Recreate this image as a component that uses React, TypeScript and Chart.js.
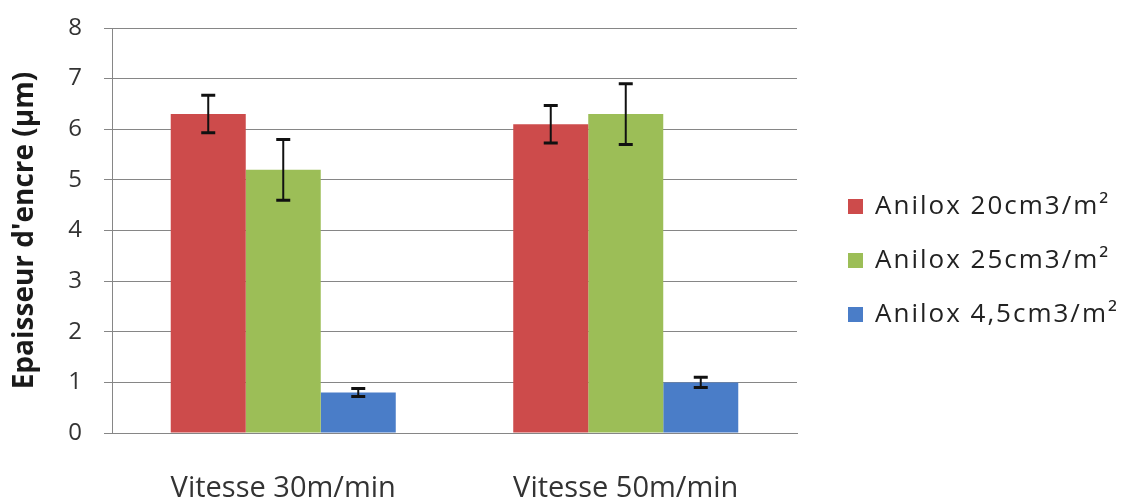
import React, { useEffect, useRef } from "react";
import { Chart, registerables } from "chart.js";

Chart.register(...registerables);

const categories = ["Vitesse 30m/min", "Vitesse 50m/min"];
const seriesLabels = ["Anilox 20cm3/m²", "Anilox 25cm3/m²", "Anilox 4,5cm3/m²"];
const anilox20 = [6.3, 6.1];
const anilox25 = [5.2, 6.3];
const anilox45 = [0.8, 1.0];
const err20 = [0.37, 0.37];
const err25 = [0.6, 0.6];
const err45 = [0.08, 0.1];
const yTicks = [0, 1, 2, 3, 4, 5, 6, 7, 8];
const yTitle = "Epaisseur d'encre (µm)";

const colors = ["#CD4B4B", "#9CBE57", "#4A7DC8"];
const FONT = "'Open Sans', sans-serif";

const errorBarPlugin = {
  id: "errorBars",
  afterDatasetsDraw(chart: any) {
    const ctx = chart.ctx;
    const yScale = chart.scales.y;
    chart.data.datasets.forEach((ds: any, di: number) => {
      const meta = chart.getDatasetMeta(di);
      const errs: number[] = ds.errors || [];
      meta.data.forEach((bar: any, i: number) => {
        const v = ds.data[i];
        const e = errs[i];
        if (e == null) return;
        const x = bar.x;
        const yTop = yScale.getPixelForValue(v + e);
        const yBot = yScale.getPixelForValue(v - e);
        ctx.save();
        ctx.strokeStyle = "#111";
        ctx.lineWidth = 2;
        ctx.beginPath();
        ctx.moveTo(x, yTop);
        ctx.lineTo(x, yBot);
        ctx.stroke();
        ctx.lineWidth = 3;
        ctx.beginPath();
        ctx.moveTo(x - 7, yTop);
        ctx.lineTo(x + 7, yTop);
        ctx.moveTo(x - 7, yBot);
        ctx.lineTo(x + 7, yBot);
        ctx.stroke();
        ctx.restore();
      });
    });
  },
};

const legendPlugin = {
  id: "customLegend",
  afterDraw(chart: any) {
    const ctx = chart.ctx;
    const area = chart.chartArea;
    const boxX = area.right + 51;
    const textX = area.right + 78;
    const startY = 206;
    const gap = 54;
    ctx.save();
    chart.data.datasets.forEach((ds: any, i: number) => {
      const cy = startY + i * gap;
      ctx.fillStyle = ds.backgroundColor;
      ctx.fillRect(boxX, cy - 7, 15, 15);
      ctx.fillStyle = "#222";
      ctx.font = `26px ${FONT}`;
      (ctx as any).letterSpacing = "2px";
      ctx.textBaseline = "middle";
      ctx.textAlign = "left";
      ctx.fillText(ds.label, textX, cy + 1);
    });
    (ctx as any).letterSpacing = "0px";
    ctx.restore();
  },
};

export default function App() {
  const canvasRef = useRef<HTMLCanvasElement | null>(null);

  useEffect(() => {
    document.body.style.margin = "0";
    const canvas = canvasRef.current;
    if (!canvas) return;
    const values = [anilox20, anilox25, anilox45];
    const errors = [err20, err25, err45];
    const chart = new Chart(canvas, {
      type: "bar",
      data: {
        labels: categories,
        datasets: seriesLabels.map((label, i) => ({
          label,
          data: values[i],
          errors: errors[i],
          backgroundColor: colors[i],
          borderWidth: 0,
          barPercentage: 1,
          categoryPercentage: 0.657,
        })) as any,
      },
      options: {
        animation: false,
        responsive: true,
        maintainAspectRatio: false,
        layout: { padding: { top: 28, right: 336, left: 0, bottom: 0 } },
        plugins: {
          legend: { display: false },
          tooltip: { enabled: false },
        },
        scales: {
          x: {
            grid: { display: false, drawTicks: false },
            border: { display: true, color: "#868686", width: 1 },
            ticks: {
              color: "#333",
              font: { family: FONT, size: 29 },
              padding: 38,
            },
            afterFit: (s: any) => {
              s.height = 69;
              s.paddingLeft = 0;
              s.paddingRight = 0;
            },
          },
          y: {
            min: 0,
            max: 8,
            afterBuildTicks: (s: any) => {
              s.ticks = yTicks.map((v) => ({ value: v }));
            },
            grid: {
              color: "#868686",
              lineWidth: 1,
              drawTicks: true,
              tickLength: 8,
            },
            border: { display: true, color: "#868686", width: 1 },
            ticks: {
              color: "#333",
              font: { family: FONT, size: 24 },
              padding: 22,
            },
            title: {
              display: true,
              text: yTitle,
              color: "#1a1a1a",
              font: { family: FONT, size: 28, weight: "bold" },
              padding: { top: 8, bottom: 0 },
            },
            afterFit: (s: any) => {
              s.width = 112;
              s.paddingTop = 0;
              s.paddingBottom = 0;
            },
          },
        },
      },
      plugins: [errorBarPlugin, legendPlugin],
    });
    return () => chart.destroy();
  }, []);

  return (
    <div style={{ width: 1133, height: 502, position: "relative" }}>
      <canvas ref={canvasRef} />
    </div>
  );
}
